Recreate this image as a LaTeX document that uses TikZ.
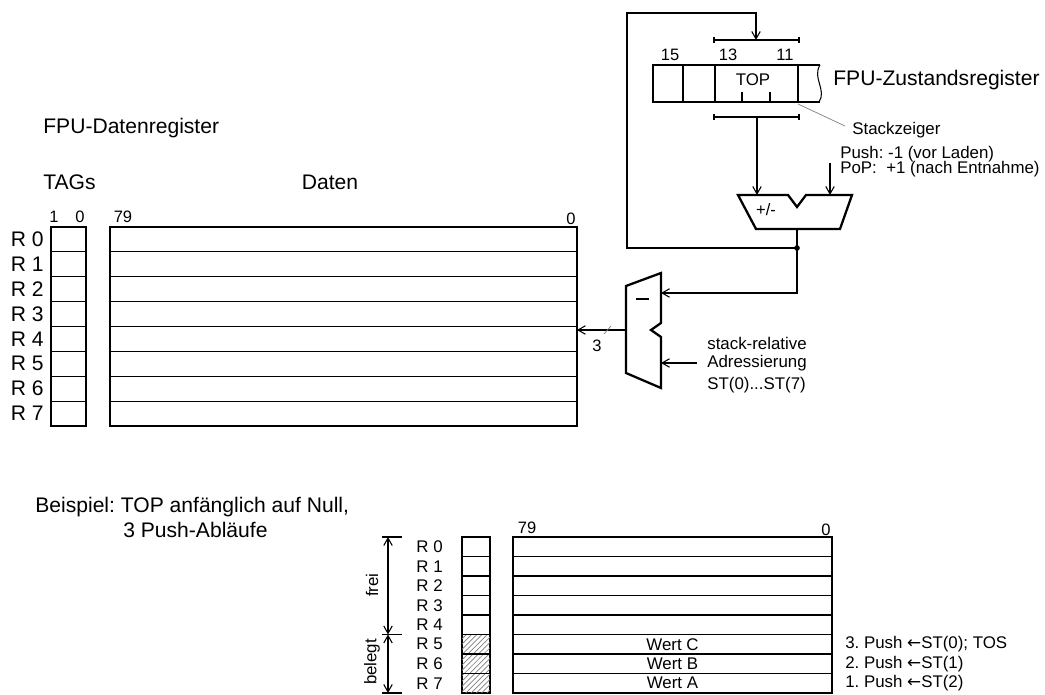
\documentclass[tikz,border=0pt]{standalone}
\usepackage{fontspec}
\setmainfont{Liberation Sans}
\newfontfamily\symfont{DejaVu Sans}
\usetikzlibrary{arrows.meta, positioning, calc, patterns}
\frenchspacing

\begin{document}
\begin{tikzpicture}[x=0.02cm, y=-0.02cm,
  frame/.style={draw, line width=1.3pt, inner sep=0pt, outer sep=0pt, anchor=north west},
  rowline/.style={line width=0.6pt},
  wire/.style={line width=0.6pt},
  thickline/.style={line width=1.3pt},
  big/.style={font=\fontsize{12}{14}\selectfont, inner sep=0pt},
  mid/.style={font=\fontsize{9.6}{11.5}\selectfont, inner sep=0pt},
  num/.style={font=\fontsize{9.4}{11}\selectfont, inner sep=0pt},
  arrow/.style={-{Straight Barb[length=1.5mm, width=1.7mm]}, line width=0.6pt},
  dimarrow/.style={{Straight Barb[length=1.5mm, width=1.7mm]}-{Straight Barb[length=1.5mm, width=1.7mm]}, line width=0.6pt}
]
\useasboundingbox (0,0) rectangle (1045,695);
\node[big, anchor=west] (titleA) at (43,128) {FPU-Datenregister};
\node[big, anchor=west] (tagtitle) at (43,182) {TAGs};
\node[big] (datentitle) at (330,182) {Daten};
\node[frame, minimum width=0.70cm, minimum height=3.98cm] (tagsA) at (51,227) {};
\node[frame, minimum width=9.34cm, minimum height=3.98cm] (datenA) at (110,227) {};
\node[num] (bit1) at (54,217) {1};
\node[num] (bit0) at (80,217) {0};
\node[num] (bit79A) at (123,217) {79};
\node[num] (bit0A) at (571,219) {0};
\foreach \i in {1,...,7} {
  \draw[rowline] ($(tagsA.north west)!\i/8!(tagsA.south west)$) -- ($(tagsA.north east)!\i/8!(tagsA.south east)$);
  \draw[rowline] ($(datenA.north west)!\i/8!(datenA.south west)$) -- ($(datenA.north east)!\i/8!(datenA.south east)$);
}
\foreach \i in {0,...,7}
  \node[big, anchor=east] (rA\i) at ($(tagsA.north west)!{(\i+0.5)/8}!(tagsA.south west) + (-7,0)$) {R \i};
\draw[thickline] (820,65) -- (653,65) -- (653,102) -- (820,102);
\draw[wire] (820,65) .. controls (812,78) and (827,90) .. (819,102);
\draw[line width=0.9pt] (683,65) -- (683,102);
\draw[thickline] (715,65) -- (715,102) (798,65) -- (798,102);
\draw[wire] (742,92) -- (742,102) (770,92) -- (770,102);
\node[num] (b15) at (670,55) {15};
\node[num] (b13) at (728,55) {13};
\node[num] (b11) at (785,55) {11};
\node[mid] (toplbl) at (753,80) {TOP};
\node[big, anchor=west] (zreg) at (833,80) {FPU-Zustandsregister};
\draw[wire] (714,40) -- (799,40) (714,37) -- (714,43) (799,37) -- (799,43);
\draw[wire] (714,117) -- (799,117) (714,114) -- (714,120) (799,114) -- (799,120);
\coordinate (brTop) at (756,40);
\coordinate (brBot) at (757,117);
\draw[gray, line width=0.4pt] (798,104) -- (845,126);
\node[mid, anchor=west] (szlbl) at (852,130) {Stackzeiger};
\node[mid, anchor=west] (pushlbl) at (840,154) {Push: -1 (vor Laden)};
\node[mid, anchor=west] (poplbl) at (840,169) {PoP:\ \ +1 (nach Entnahme)};
\draw[thickline] (738,195) -- (788,195) -- (797,207) -- (806,195) -- (852,195) -- (840,229) -- (756,229) -- cycle;
\node[num] (addlbl) at (766,210) {+/-};
\coordinate (addInA) at (757,195);
\coordinate (addInB) at (830,195);
\coordinate (addOut) at (797,229);
\coordinate (popIn) at (830,163);
\coordinate (junc) at (797,248);
\coordinate (fbTop) at (627,13);
\draw[arrow] (brBot) -- (addInA);
\draw[arrow] (popIn) -- (addInB);
\draw[wire] (addOut) -- (junc);
\fill (junc) circle (1.6pt);
\draw[arrow] (junc) -| (fbTop) -| (brTop);
\draw[thickline] (661,273) -- (661,323) -- (651,330) -- (661,337) -- (661,388) -- (626,373) -- (626,286) -- cycle;
\draw[line width=1.6pt] (636,299) -- (649,299);
\coordinate (muxInA) at (661,293);
\coordinate (muxInB) at (661,363);
\coordinate (muxOut) at (626,330);
\coordinate (addrIn) at (697,363);
\draw[arrow] (junc) |- (muxInA);
\draw[arrow] (muxOut) -- (datenA.east |- muxOut);
\draw[gray, line width=0.4pt] (604,334) -- (611,326);
\node[num] (buswidth) at (597,346) {3};
\draw[arrow] (addrIn) -- (muxInB);
\node[mid, anchor=west] (srlbl) at (707,343) {stack-relative};
\node[mid, anchor=west] (adrlbl) at (707,363) {Adressierung};
\node[mid, anchor=west] (stlbl) at (707,385) {ST(0)...ST(7)};
\node[big, anchor=west] (beispiel) at (35,507) {Beispiel: TOP anfänglich auf Null,};
\node[big, anchor=west] (ablaeufe) at (123,530) {3 Push-Abläufe};
\node[frame, minimum width=0.56cm, minimum height=3.12cm] (tagsB) at (462,537) {};
\node[frame, minimum width=6.38cm, minimum height=3.12cm] (datenB) at (513,537) {};
\fill[pattern=north east lines, pattern color=gray] ($(tagsB.north west)!5/8!(tagsB.south west)$) rectangle (tagsB.south east);
\foreach \i in {1,...,7} {
  \draw[rowline] ($(tagsB.north west)!\i/8!(tagsB.south west)$) -- ($(tagsB.north east)!\i/8!(tagsB.south east)$);
  \draw[rowline] ($(datenB.north west)!\i/8!(datenB.south west)$) -- ($(datenB.north east)!\i/8!(datenB.south east)$);
}
\foreach \i in {0,...,7}
  \node[mid, anchor=east] (rB\i) at ($(tagsB.north west)!{(\i+0.5)/8}!(tagsB.south west) + (-19,0)$) {R \i};
\node[num] (bit79B) at (527,528) {79};
\node[num] (bit0B) at (826,530) {0};
\node[mid] (wertC) at ($(datenB.north)!5.5/8!(datenB.south)$) {Wert C};
\node[mid] (wertB) at ($(datenB.north)!6.5/8!(datenB.south)$) {Wert B};
\node[mid] (wertA) at ($(datenB.north)!7.5/8!(datenB.south)$) {Wert A};
\node[mid, anchor=west] (push3) at ($(datenB.north east)!5.5/8!(datenB.south east) + (13,0)$) {3. Push {\symfont ←}ST(0); TOS};
\node[mid, anchor=west] (push2) at ($(datenB.north east)!6.5/8!(datenB.south east) + (13,0)$) {2. Push {\symfont ←}ST(1)};
\node[mid, anchor=west] (push1) at ($(datenB.north east)!7.5/8!(datenB.south east) + (13,0)$) {1. Push {\symfont ←}ST(2)};
\coordinate (dTop) at (388,537);
\coordinate (dMid) at (388,634.5);
\coordinate (dBot) at (388,693);
\draw[wire] (382,537) -- (402,537) (382,634.5) -- (402,634.5) (382,693) -- (402,693);
\draw[dimarrow] (dTop) -- (dMid);
\draw[dimarrow] (dMid) -- (dBot);
\node[mid, rotate=90] (frei) at (372,585) {frei};
\node[mid, rotate=90] (belegt) at (372,662) {belegt};
\end{tikzpicture}
\end{document}
